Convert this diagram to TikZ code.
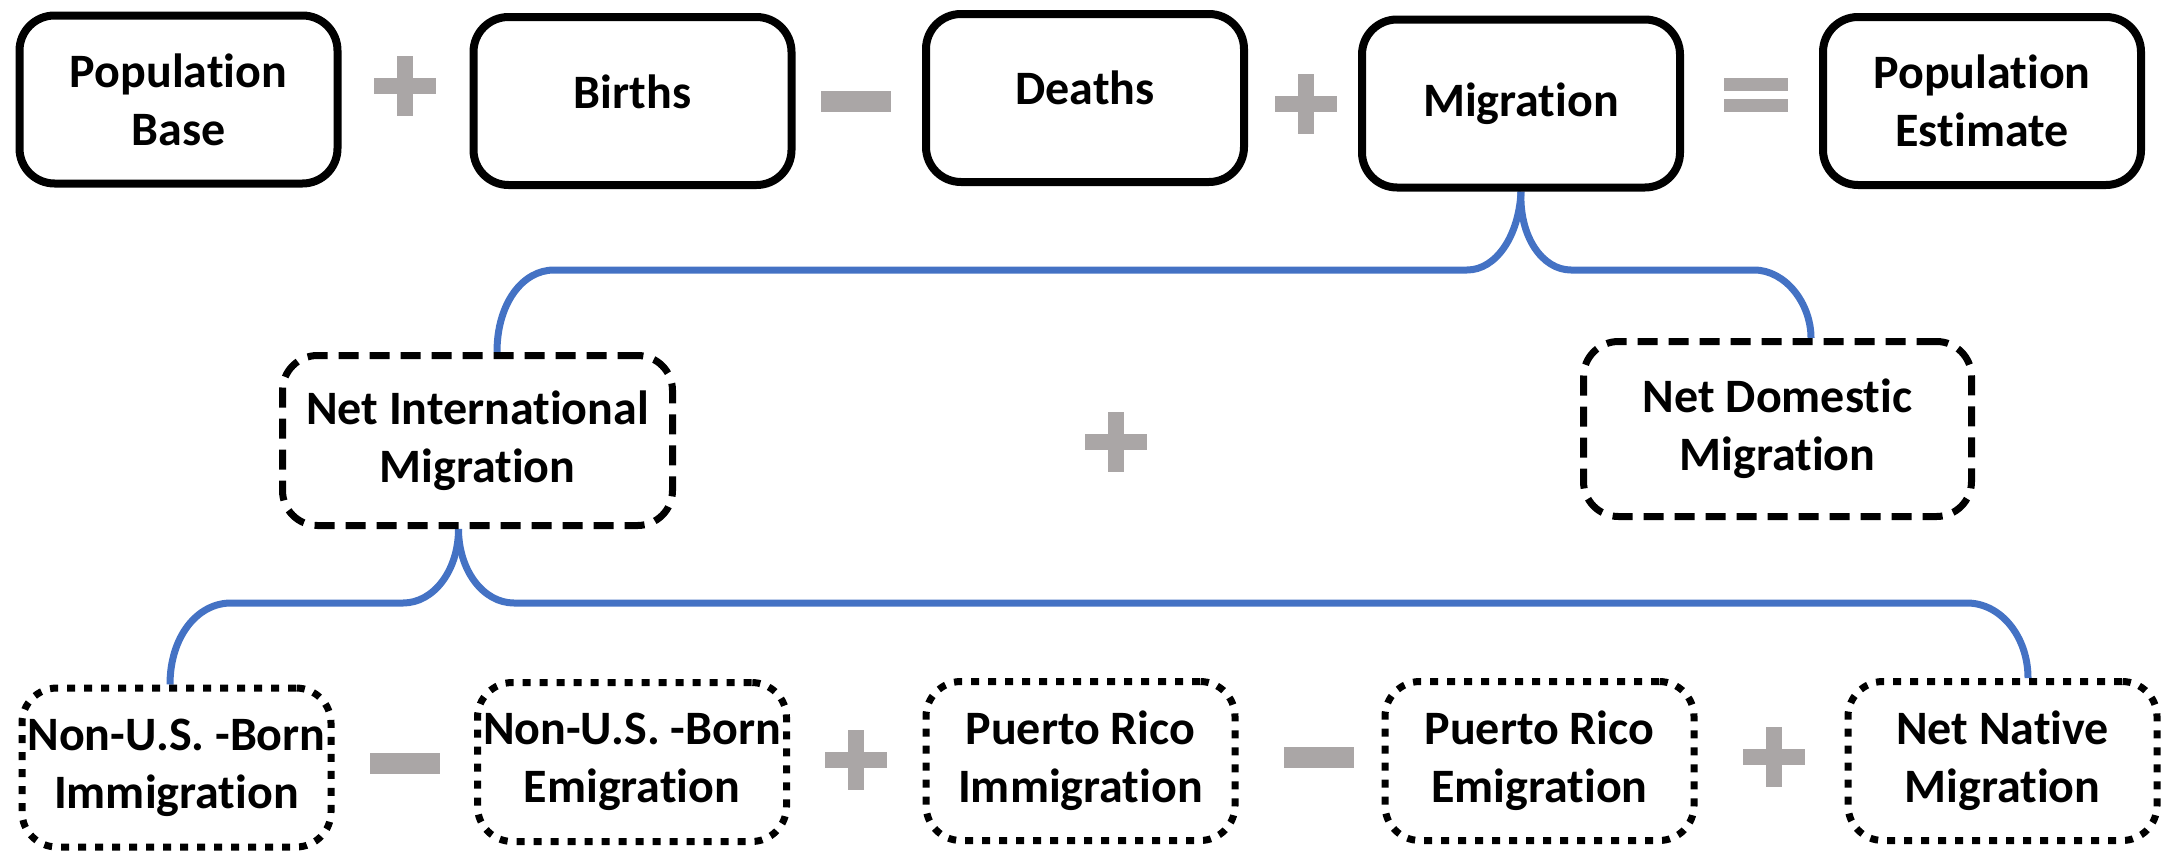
\documentclass[tikz,border=0pt]{standalone}
\usepackage{fontspec}
\setmainfont{Carlito}[Ligatures=NoCommon]
\usetikzlibrary{backgrounds}
\definecolor{bluec}{HTML}{4472C4}
\definecolor{opgray}{RGB}{170,166,166}
\begin{document}
\begin{tikzpicture}[x=1pt,y=-1pt,
  boxtext/.style={align=center, font=\bfseries\fontsize{48}{58}\selectfont, inner sep=0pt},
  solidbox/.style={boxtext, draw=black, fill=white, line width=8pt, rounded corners=35pt, minimum width=318pt, minimum height=168pt},
  dashbox/.style={boxtext, draw=black, fill=white, line width=7pt, rounded corners=35pt, dash pattern=on 20pt off 11pt},
  dotbox/.style={boxtext, draw=black, fill=white, line width=7pt, rounded corners=35pt, dash pattern=on 8pt off 9pt, minimum width=309pt, minimum height=159pt},
  brace/.style={draw=bluec, line width=7pt},
  plusop/.pic={\fill[opgray] (-31,-8) rectangle (31,8); \fill[opgray] (-8,-30) rectangle (8,30);},
  minusop/.pic={\fill[opgray] (-35,-10.5) rectangle (35,10.5);},
  equalsop/.pic={\fill[opgray] (-32,-17) rectangle (32,-4); \fill[opgray] (-32,4) rectangle (32,17);}
]
\useasboundingbox (0,0) rectangle (2165,854);

% top row
\node[solidbox] (b1) at (178.5,99.5) {Population\\Base};
\node[solidbox] (b2) at (632.5,101) {};
\node[boxtext] (t2) at ([yshift=9pt]b2.center) {Births};
\node[solidbox] (b3) at (1085,98) {};
\node[boxtext] (t3) at ([yshift=10pt]b3.center) {Deaths};
\node[solidbox] (b4) at (1521,103.5) {Migration};
\node[solidbox] (b5) at (1982,101) {Population\\Estimate};
\pic at (404.5,85.5) {plusop};
\pic at (856,101) {minusop};
\pic at (1306,103.5) {plusop};
\pic at (1756,95) {equalsop};

% middle row
\node[dashbox, minimum width=390pt, minimum height=170pt] (nim) at (477.5,440.5) {Net International\\Migration};
\node[dashbox, minimum width=388pt, minimum height=175pt] (ndm) at (1777.5,429) {Net Domestic\\Migration};
\pic at (1115.5,442) {plusop};

% bottom row
\node[dotbox] (c1) at (176.5,767.5) {Non-U.S. -Born\\Immigration};
\node[dotbox] (c2) at (632,762) {Non-U.S. -Born\\Emigration};
\node[dotbox] (c3) at (1080.5,761) {Puerto Rico\\Immigration};
\node[dotbox] (c4) at (1539.5,761) {Puerto Rico\\Emigration};
\node[dotbox] (c5) at (2002.5,761) {Net Native\\Migration};
\pic at (404.5,763.5) {minusop};
\pic at (856,759.5) {plusop};
\pic at (1318.5,757) {minusop};
\pic at (1774,757) {plusop};

% braces
\begin{scope}[on background layer]
\coordinate (tip1) at (b4.south);
\coordinate (l1) at ([xshift=19.5pt]nim.north);
\coordinate (r1) at ([xshift=33.5pt]ndm.north);
\draw[brace] (tip1) .. controls (1519,236) and (1496,270) .. (1467,270)
  -- (554,270) .. controls (522.5,270) and (497,303.5) .. (l1);
\draw[brace] (tip1) .. controls (1519,236) and (1542,270) .. (1571,270)
  -- (1754,270) .. controls (1785.5,270) and (1811,303.5) .. (r1);
\coordinate (tip2) at ([xshift=-19pt]nim.south);
\coordinate (l2) at ([xshift=-6.5pt]c1.north);
\coordinate (r2) at ([xshift=25.5pt]c5.north);
\draw[brace] (tip2) .. controls (458.5,570) and (434,603) .. (403,603)
  -- (231,603) .. controls (197,603) and (170,637) .. (l2);
\draw[brace] (tip2) .. controls (458.5,570) and (483,603) .. (514,603)
  -- (1967,603) .. controls (2001,603) and (2028,637) .. (r2);
\end{scope}
\end{tikzpicture}
\end{document}
